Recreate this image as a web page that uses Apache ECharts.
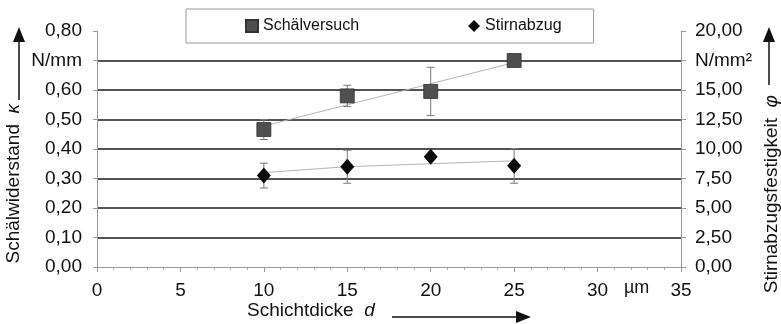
<!DOCTYPE html>
<html>
<head>
<meta charset="utf-8">
<script src="https://cdn.jsdelivr.net/npm/echarts@6/dist/echarts.min.js"></script>
<style>
  html, body { margin: 0; padding: 0; background: #fff; }
  #chart { width: 781px; height: 324px; }
</style>
</head>
<body>
<div id="chart"></div>
<script>
// Layer thickness (µm) at which both tests were run
const thickness = [10, 15, 20, 25];

// Peel resistance κ (N/mm), left axis, with ± spread
const peelValues = [0.466, 0.58, 0.595, 0.70];
const peelSpread = [0.034, 0.036, 0.082, 0];

// Pull-off strength φ (N/mm²), right axis, with ± spread
const pullValues = [7.75, 8.5, 9.35, 8.57];
const pullSpread = [1.05, 1.4, 0, 1.47];

// Trend lines drawn through the two test series
const peelTrend = [[10, 0.478], [25, 0.693]];
const pullTrend = [[10, 8.0], [15, 8.5], [25, 9.0]];

// Axis tick labels
const xTicks = [0, 5, 10, 15, 20, 25, 30, 35];
const leftUnit = 'N/mm';
const rightUnit = 'N/mm²';

const FONT = '"Liberation Sans", Arial, sans-serif';
const fmt = v => v.toFixed(2).replace('.', ',');

function errorBars(values, spread) {
  return thickness.map((x, i) => [x, values[i] - spread[i], values[i] + spread[i]])
                  .filter((d, i) => spread[i] > 0);
}

function renderErrorBar(params, api) {
  const x = api.value(0);
  const lo = api.coord([x, api.value(1)]);
  const hi = api.coord([x, api.value(2)]);
  const cap = 4;
  const style = { stroke: '#777', lineWidth: 1 };
  return {
    type: 'group',
    children: [
      { type: 'line', shape: { x1: lo[0], y1: lo[1], x2: hi[0], y2: hi[1] }, style },
      { type: 'line', shape: { x1: lo[0] - cap, y1: lo[1], x2: lo[0] + cap, y2: lo[1] }, style },
      { type: 'line', shape: { x1: hi[0] - cap, y1: hi[1], x2: hi[0] + cap, y2: hi[1] }, style }
    ]
  };
}

const italic = { i: { fontStyle: 'italic', fontSize: 19, fontFamily: FONT } };

const chart = echarts.init(document.getElementById('chart'), null, { renderer: 'canvas' });

chart.setOption({
  backgroundColor: '#fff',
  animation: false,
  textStyle: { fontFamily: FONT, color: '#111' },
  grid: { left: 97, right: 100, top: 31, bottom: 57, containLabel: false },
  legend: {
    left: 186, top: 9,
    padding: [9, 32, 9, 59],
    itemGap: 109,
    itemWidth: 12, itemHeight: 12,
    borderColor: '#9a9a9a', borderWidth: 1,
    textStyle: { fontFamily: FONT, fontSize: 16, color: '#111' },
    data: ['Schälversuch', 'Stirnabzug']
  },
  xAxis: {
    type: 'value', min: 0, max: 35, interval: 5,
    axisLine: { show: true, lineStyle: { color: '#999', width: 1 } },
    axisTick: { show: true, length: 5, lineStyle: { color: '#999' } },
    minorTick: { show: true, splitNumber: 5, length: 3, lineStyle: { color: '#aaa' } },
    splitLine: { show: false },
    axisLabel: {
      margin: 14, fontSize: 19, color: '#111', fontFamily: FONT,
      customValues: xTicks,
      formatter: v => String(v)
    }
  },
  yAxis: [
    {
      type: 'value', min: 0, max: 0.8, interval: 0.1, position: 'left',
      axisLine: { show: true, lineStyle: { color: '#999', width: 1 } },
      axisTick: { show: true, length: 4, lineStyle: { color: '#999' } },
      splitLine: { show: true, showMinLine: false, showMaxLine: false,
                   lineStyle: { color: '#1a1a1a', width: 1.6 } },
      axisLabel: {
        margin: 15, fontSize: 19, color: '#111', fontFamily: FONT,
        formatter: v => Math.abs(v - 0.7) < 1e-9 ? leftUnit : fmt(v)
      }
    },
    {
      type: 'value', min: 0, max: 20, interval: 2.5, position: 'right',
      axisLine: { show: true, lineStyle: { color: '#999', width: 1 } },
      axisTick: { show: true, length: 5, lineStyle: { color: '#999' } },
      splitLine: { show: false },
      axisLabel: {
        margin: 14, fontSize: 19, color: '#111', fontFamily: FONT,
        formatter: v => Math.abs(v - 17.5) < 1e-9 ? rightUnit : fmt(v)
      }
    }
  ],
  series: [
    {
      name: 'peelTrend', type: 'line', yAxisIndex: 0, data: peelTrend,
      symbol: 'none', lineStyle: { color: '#b5b5b5', width: 1 }, z: 2, silent: true
    },
    {
      name: 'pullTrend', type: 'line', yAxisIndex: 1, data: pullTrend,
      symbol: 'none', lineStyle: { color: '#b5b5b5', width: 1 }, z: 2, silent: true
    },
    {
      name: 'peelErr', type: 'custom', yAxisIndex: 0,
      data: errorBars(peelValues, peelSpread), renderItem: renderErrorBar, z: 3
    },
    {
      name: 'pullErr', type: 'custom', yAxisIndex: 1,
      data: errorBars(pullValues, pullSpread), renderItem: renderErrorBar, z: 3
    },
    {
      name: 'Schälversuch', type: 'scatter', yAxisIndex: 0,
      data: thickness.map((x, i) => [x, peelValues[i]]),
      symbol: 'rect', symbolSize: 14,
      itemStyle: { color: '#4f4f4f', borderColor: '#333', borderWidth: 0.8, opacity: 1 }, z: 5
    },
    {
      name: 'Stirnabzug', type: 'scatter', yAxisIndex: 1,
      data: thickness.map((x, i) => [x, pullValues[i]]),
      symbol: 'diamond', symbolSize: [14, 16],
      itemStyle: { color: '#0a0a0a', opacity: 1 }, z: 5
    }
  ],
  graphic: [
    // unit of the x axis
    { type: 'text', x: 624, y: 288,
      style: { text: 'µm', font: '18px ' + FONT, fill: '#111', textVerticalAlign: 'middle' } },
    // left axis title (reads upward, ends below the arrow) and arrow
    { type: 'text', x: 14, y: 104, rotation: Math.PI / 2,
      style: { text: 'Schälwiderstand  {i|κ}', font: '19px ' + FONT, fill: '#111',
               textAlign: 'right', textVerticalAlign: 'middle', rich: italic } },
    { type: 'line', shape: { x1: 19, y1: 100, x2: 19, y2: 40 }, style: { stroke: '#111', lineWidth: 1.5 } },
    { type: 'polygon', shape: { points: [[13, 42], [25, 42], [19, 27]] }, style: { fill: '#111' } },
    // right axis title and arrow
    { type: 'text', x: 772, y: 95, rotation: Math.PI / 2,
      style: { text: 'Stirnabzugsfestigkeit  {i|φ}', font: '19px ' + FONT, fill: '#111',
               textAlign: 'right', textVerticalAlign: 'middle', rich: italic } },
    { type: 'line', shape: { x1: 769, y1: 85, x2: 769, y2: 40 }, style: { stroke: '#111', lineWidth: 1.5 } },
    { type: 'polygon', shape: { points: [[763, 42], [775, 42], [769, 27]] }, style: { fill: '#111' } },
    // x axis title and arrow
    { type: 'text', x: 247, y: 311,
      style: { text: 'Schichtdicke  {i|d}', font: '19px ' + FONT, fill: '#111',
               textAlign: 'left', textVerticalAlign: 'middle', rich: italic } },
    { type: 'line', shape: { x1: 392, y1: 317, x2: 518, y2: 317 }, style: { stroke: '#111', lineWidth: 1.5 } },
    { type: 'polygon', shape: { points: [[516, 311], [516, 323], [531, 317]] }, style: { fill: '#111' } }
  ]
});
</script>
</body>
</html>
